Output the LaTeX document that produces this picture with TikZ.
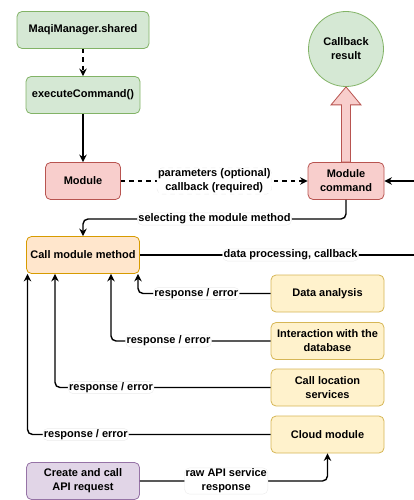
\documentclass[tikz,border=0pt]{standalone}
\usepackage{fontspec}
\setmainfont{Liberation Sans}
\usetikzlibrary{arrows.meta,calc}

\definecolor{grnF}{HTML}{D5E8D4}\definecolor{grnD}{HTML}{82B366}
\definecolor{redF}{HTML}{F8CECC}\definecolor{redD}{HTML}{B85450}
\definecolor{orgF}{HTML}{FFE6CC}\definecolor{orgD}{HTML}{D79B00}
\definecolor{ylwF}{HTML}{FFF2CC}\definecolor{ylwD}{HTML}{D6B656}
\definecolor{prpF}{HTML}{E1D5E7}\definecolor{prpD}{HTML}{9673A6}

\begin{document}
\begin{tikzpicture}[x=1pt, y=-1pt, >={Stealth[length=7.5pt,width=7.5pt]},
    every node/.style={font=\bfseries\fontsize{11}{14}\selectfont, align=center},
    box/.style={draw, rounded corners=5pt, line width=0.8pt, minimum height=37pt, inner sep=2pt},
    lbl/.style={fill=white, draw=black!8, line width=0.4pt, inner sep=1pt},
    link/.style={line width=1.4pt, rounded corners=5pt},
    dashlink/.style={link, dash pattern=on 4.5pt off 4pt}]

    \useasboundingbox (0,0) rectangle (414,500);

    % 上の流れ
    \node[box, fill=grnF, draw=grnD, minimum width=132pt] (mgr) at (83,30) {MaqiManager.shared};
    \node[box, fill=grnF, draw=grnD, minimum width=114pt] (exe) at (83,95) {executeCommand()};
    \node[box, fill=redF, draw=redD, minimum width=75pt] (mod) at (83,181) {Module};
    \node[box, fill=redF, draw=redD, minimum width=76pt] (mcmd) at (346,181) {Module\\command};
    \node[draw=grnD, fill=grnF, circle, line width=0.8pt, minimum size=75pt] (cbres) at (346,49) {Callback\\result};

    \draw[dashlink, ->] (mgr) -- (exe);
    \draw[link, ->] (exe) -- (mod);
    \draw[dashlink, ->] (mod) -- node[lbl] {parameters (optional)\\callback (required)} (mcmd);

    % 結果へのブロック矢印
    \draw[fill=redF, draw=redD, line width=0.8pt]
    ($(mcmd.north)+(-4.5,0)$) -- ($(cbres.south)+(-4.5,18)$) -- ($(cbres.south)+(-15,18)$)
    -- (cbres.south) -- ($(cbres.south)+(15,18)$) -- ($(cbres.south)+(4.5,18)$)
    -- ($(mcmd.north)+(4.5,0)$) -- cycle;

    % 右端から戻る線
    \coordinate (backIn) at (414,181);
    \draw[link, ->] (backIn) -- (mcmd);

    % メソッド呼び出し
    \node[box, fill=orgF, draw=orgD, minimum width=113pt] (cmm) at (83,255) {Call module method};
    \coordinate (selTurn) at (83,219);
    \draw[link, ->] (mcmd.south) |- node[lbl, pos=0.75] {selecting the module method} (selTurn) -- (cmm.north);

    \coordinate (backOut) at (414,255);
    \draw[link] (cmm.east) -- node[lbl, pos=0.55] {data processing, callback} (backOut);

    % 右側のモジュール群
    \node[box, fill=ylwF, draw=ylwD, minimum width=113pt] (ana) at (327.5,293.5) {Data analysis};
    \node[box, fill=ylwF, draw=ylwD, minimum width=113pt] (dbase) at (327.5,341) {Interaction with the\\database};
    \node[box, fill=ylwF, draw=ylwD, minimum width=113pt] (loc) at (327.5,387.5) {Call location\\services};
    \node[box, fill=ylwF, draw=ylwD, minimum width=113pt] (cloud) at (327.5,434.5) {Cloud module};

    \draw[link, ->] (ana.west) -| node[lbl, pos=0.28] {response / error} ($(cmm.south)+(55,0)$);
    \draw[link, ->] (dbase.west) -| node[lbl, pos=0.32] {response / error} ($(cmm.south)+(28,0)$);
    \draw[link, ->] (loc.west) -| node[lbl, pos=0.37] {response / error} ($(cmm.south)+(-28,0)$);
    \draw[link, ->] (cloud.west) -| node[lbl, pos=0.38] {response / error} ($(cmm.south)+(-55.5,0)$);

    % API リクエスト
    \node[box, fill=prpF, draw=prpD, minimum width=113pt] (api) at (83,481) {Create and call\\API request};
    \draw[link, ->] (api.east) -| node[lbl, pos=0.23] {raw API service\\response} (cloud.south);

\end{tikzpicture}
\end{document}
